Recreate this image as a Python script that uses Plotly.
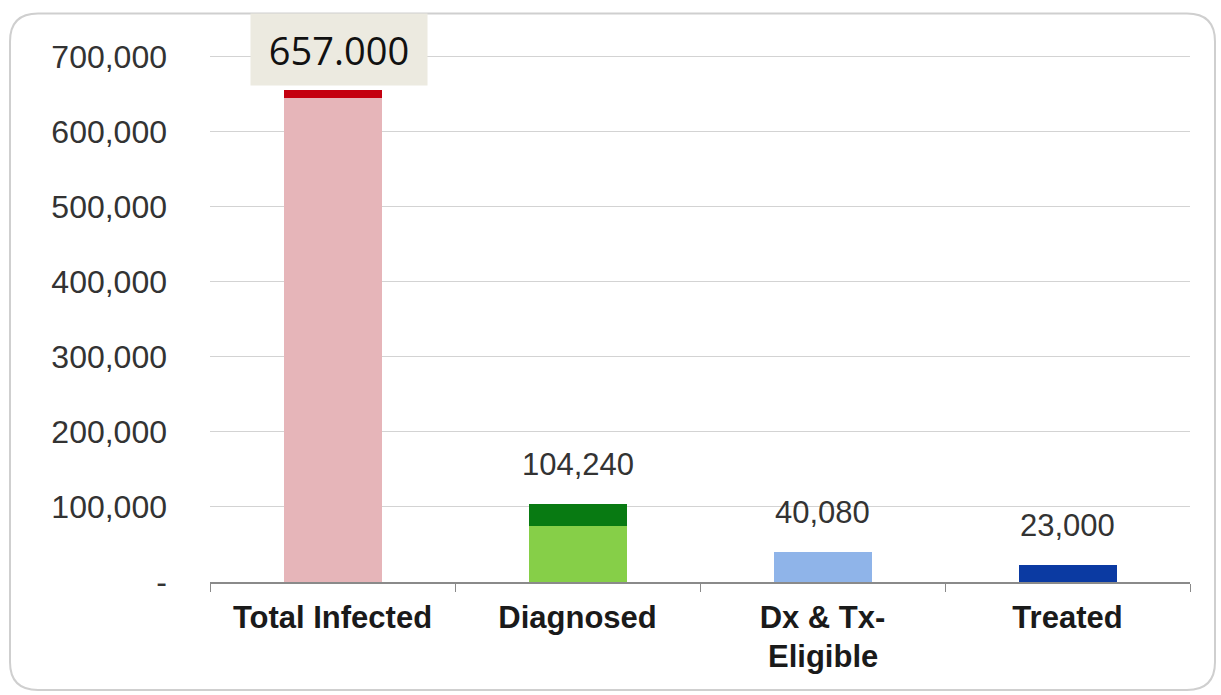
import plotly.graph_objects as go

categories = ["Total Infected", "Diagnosed", "Dx & Tx-Eligible", "Treated"]
tick_labels = ["Total Infected", "Diagnosed", "Dx & Tx-", "Treated"]
second_line = ["", "", "Eligible", ""]
base_values = [645000, 75000, 40080, 23000]
cap_values = [10000, 29240, 0, 0]
value_labels = ["", "104,240", "40,080", "23,000"]
headline_label = "657.000"
base_colors = ["#E6B5B9", "#86CF48", "#8FB4E9", "#0B3AA2"]
cap_colors = ["#C4000F", "#087A12", "#8FB4E9", "#0B3AA2"]
ytick_vals = [0, 100000, 200000, 300000, 400000, 500000, 600000, 700000]
ytick_text = ["-", "100,000", "200,000", "300,000", "400,000", "500,000", "600,000", "700,000"]

TOP = 54.5
PH = 582 - TOP

fig = go.Figure()
fig.add_trace(go.Bar(x=categories, y=base_values, marker=dict(color=base_colors, line=dict(width=0)),
                     width=0.4, hoverinfo="skip"))
fig.add_trace(go.Bar(x=categories, y=cap_values, marker=dict(color=cap_colors, line=dict(width=0)),
                     width=0.4, hoverinfo="skip"))

totals = [b + c for b, c in zip(base_values, cap_values)]
for cat, tot, lab in zip(categories, totals, value_labels):
    if lab:
        fig.add_annotation(x=cat, y=tot, text=lab, showarrow=False, yanchor="bottom", yshift=20,
                           font=dict(family="Liberation Sans, Arial", size=31, color="#333333"))

def px(xp):
    return (xp - 210) / 980.0
def py(yp):
    return (582 - yp) / PH

for cat, extra in zip(categories, second_line):
    if extra:
        fig.add_annotation(x=cat, y=py(657), yref="paper", yanchor="middle", text=extra,
                           showarrow=False,
                           font=dict(family="Liberation Sans, Arial", size=31, color="#1A1A1A",
                                     weight="bold"))

fig.add_annotation(x=categories[0], xshift=6, y=py(48.5), yref="paper", yanchor="middle",
                   text=headline_label, showarrow=False, width=174, height=69, bgcolor="#ECEAE0",
                   font=dict(family="Open Sans, Noto Sans", size=38, color="#111111"))

# rounded outer border
L, T, R, B, r = 10, 13, 1215, 690, 28
path = (f"M {px(L+r)},{py(T)} L {px(R-r)},{py(T)} Q {px(R)},{py(T)} {px(R)},{py(T+r)} "
        f"L {px(R)},{py(B-r)} Q {px(R)},{py(B)} {px(R-r)},{py(B)} "
        f"L {px(L+r)},{py(B)} Q {px(L)},{py(B)} {px(L)},{py(B-r)} "
        f"L {px(L)},{py(T+r)} Q {px(L)},{py(T)} {px(L+r)},{py(T)} Z")
fig.add_shape(type="path", path=path, xref="paper", yref="paper",
              line=dict(color="#CFCFCF", width=2), layer="below")

fig.update_layout(
    barmode="stack",
    showlegend=False,
    width=1221, height=695,
    margin=dict(l=210, r=31, t=TOP, b=113),
    paper_bgcolor="white", plot_bgcolor="white",
    xaxis=dict(showline=True, linecolor="#8A8A8A", linewidth=1.5, ticks="outside", ticklen=8,
               tickcolor="#8A8A8A", tickson="boundaries", ticklabelstandoff=7,
               tickvals=categories, ticktext=tick_labels,
               tickfont=dict(family="Liberation Sans, Arial", size=31, color="#1A1A1A", weight="bold"),
               showgrid=False),
    yaxis=dict(range=[0, 702000], tickvals=ytick_vals, ticktext=ytick_text, showgrid=True,
               gridcolor="#D3D3D3", gridwidth=1.2, zeroline=False, showline=False,
               ticklabelstandoff=42,
               tickfont=dict(family="Liberation Sans, Arial", size=32, color="#333333")),
)

fig.write_html("out.html")
